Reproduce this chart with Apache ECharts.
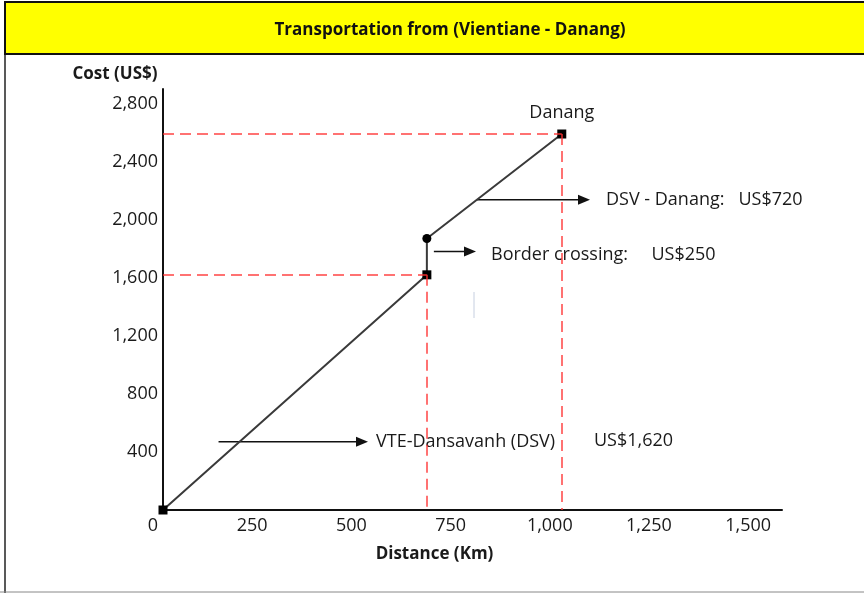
<!DOCTYPE html>
<html>
<head>
<meta charset="utf-8">
<script src="https://cdn.jsdelivr.net/npm/echarts@6/dist/echarts.min.js"></script>
<style>
  html, body { margin: 0; padding: 0; background: #ffffff; }
  #chart { width: 864px; height: 593px; }
</style>
</head>
<body>
<div id="chart"></div>
<script>
// Route stops: start, border (arrival), border (after crossing), destination
const stopNames = ['Vientiane', 'Dansavanh', 'Dansavanh', 'Danang'];
const distanceKm = [0, 665, 665, 1005];
const cumulativeCost = [0, 1620, 1870, 2590];
const stopSymbols = ['rect', 'rect', 'circle', 'rect'];

// Leg costs shown in the annotations
const legNames = ['VTE-Dansavanh (DSV)', 'Border crossing:', 'DSV - Danang:'];
const legCosts = [1620, 250, 720];

// Axis ticks
const xTicks = [0, 250, 500, 750, 1000, 1250, 1500];
const yTicks = [400, 800, 1200, 1600, 2000, 2400, 2800];

const FONT = 'Open Sans';
const TEXT = '#1a1a1a';
const RED = '#ff3030';
const FS = 18;

const fmt = v => v.toLocaleString('en-US');
const money = v => 'US$' + fmt(v);

const chart = echarts.init(document.getElementById('chart'), null, { renderer: 'canvas' });

const routeData = distanceKm.map((d, i) => ({
  value: [d, cumulativeCost[i]],
  name: stopNames[i],
  symbol: stopSymbols[i]
}));

const borderIn = routeData[1].value;
const borderOut = routeData[2].value;
const danang = routeData[3].value;

chart.setOption({
  animation: false,
  backgroundColor: '#ffffff',
  grid: { left: 163, right: 82, top: 89, bottom: 83 },
  xAxis: {
    type: 'value',
    min: 0,
    max: 1560,
    interval: 250,
    name: 'Distance (Km)',
    nameLocation: 'middle',
    nameGap: 36,
    nameTextStyle: { fontFamily: FONT, fontWeight: 'bold', fontSize: 17, color: TEXT, padding: [0, 76, 0, 0] },
    axisLine: { show: true, onZero: false, lineStyle: { color: '#111', width: 2 } },
    axisTick: { show: false },
    splitLine: { show: false },
    axisLabel: {
      fontFamily: FONT, fontSize: FS, color: TEXT, margin: 7,
      padding: [0, 20, 0, 0],
      formatter: v => xTicks.includes(v) ? fmt(v) : ''
    }
  },
  yAxis: {
    type: 'value',
    min: 0,
    max: 2900,
    interval: 400,
    name: 'Cost (US$)',
    nameLocation: 'end',
    nameGap: 6,
    nameTextStyle: { fontFamily: FONT, fontWeight: 'bold', fontSize: 17, color: TEXT, align: 'center', padding: [0, 0, 0, -96] },
    axisLine: { show: true, onZero: false, lineStyle: { color: '#111', width: 2 } },
    axisTick: { show: false },
    splitLine: { show: false },
    axisLabel: {
      fontFamily: FONT, fontSize: FS, color: TEXT, margin: 5,
      padding: [8, 0, 0, 0],
      formatter: v => yTicks.includes(v) ? fmt(v) : ''
    }
  },
  series: [{
    type: 'line',
    data: routeData,
    symbolSize: 9,
    itemStyle: { color: '#000' },
    lineStyle: { color: '#3a3a3a', width: 2 },
    label: {
      show: true,
      fontFamily: FONT, fontSize: FS, color: TEXT,
      position: 'top', distance: 8,
      formatter: p => p.dataIndex === 3 ? p.name : ''
    },
    markLine: {
      silent: true,
      symbol: ['none', 'none'],
      label: { show: false },
      lineStyle: { color: RED, width: 1.5, type: [11, 6], opacity: 0.9 },
      data: [
        [{ coord: [0, danang[1]] }, { coord: danang }],
        [{ coord: [danang[0], danang[1]] }, { coord: [danang[0], 0] }],
        [{ coord: [0, borderIn[1]] }, { coord: borderIn }],
        [{ coord: [borderIn[0], borderIn[1]] }, { coord: [borderIn[0], 0] }]
      ]
    },
    z: 3
  }]
});

// Annotation arrows and captions, anchored to the route in data space
function arrow(x1, y1, x2, y2) {
  return [
    { type: 'line', shape: { x1, y1, x2: x2 - 10, y2 }, style: { stroke: '#111', lineWidth: 1.5 } },
    { type: 'polygon', shape: { points: [[x2 - 12, y2 - 5], [x2, y2], [x2 - 12, y2 + 5]] }, style: { fill: '#111' } }
  ];
}
function caption(x, y, text) {
  return { type: 'text', x, y, style: { text, fontFamily: FONT, fontSize: FS, fill: TEXT, textVerticalAlign: 'middle' } };
}

const px = (x, y) => chart.convertToPixel({ gridIndex: 0 }, [x, y]);

// point on the DSV - Danang leg used as arrow origin
const t = 0.37;
const legPt = px(borderOut[0] + (danang[0] - borderOut[0]) * t, borderOut[1] + (danang[1] - borderOut[1]) * t);
const inPx = px(borderIn[0], borderIn[1]);
const outPx = px(borderOut[0], borderOut[1]);
const crossY = outPx[1] + 13;
const firstY = px(0, 470)[1];
const firstX = px(140, 0)[0];

const graphics = [
  // frame and title band
  { type: 'line', shape: { x1: 5, y1: 54, x2: 5, y2: 593 }, style: { stroke: '#222', lineWidth: 1.5 } },
  { type: 'rect', shape: { x: 5, y: 2, width: 870, height: 52 }, style: { fill: '#ffff00', stroke: '#111', lineWidth: 2 } },
  { type: 'text', x: 450, y: 30, style: { text: 'Transportation from (Vientiane - Danang)', fontFamily: FONT, fontWeight: 'bold', fontSize: 17, fill: '#111', textAlign: 'center', textVerticalAlign: 'middle' } },
  { type: 'line', shape: { x1: 0, y1: 592, x2: 864, y2: 592 }, style: { stroke: '#888', lineWidth: 1 } },
  // stray faint mark
  { type: 'line', shape: { x1: 474, y1: 292, x2: 474, y2: 318 }, style: { stroke: '#c6cfe0', lineWidth: 1 } },
  ...arrow(legPt[0], legPt[1], 590, legPt[1]),
  caption(606, legPt[1], legNames[2] + '   ' + money(legCosts[2])),
  ...arrow(inPx[0] + 7, crossY, 476, crossY),
  caption(491, crossY + 3, legNames[1] + '     ' + money(legCosts[1])),
  ...arrow(firstX, firstY, 368, firstY),
  caption(376, firstY, legNames[0]),
  caption(594, firstY - 1, money(legCosts[0]))
];

chart.setOption({ graphic: graphics });
</script>
</body>
</html>
